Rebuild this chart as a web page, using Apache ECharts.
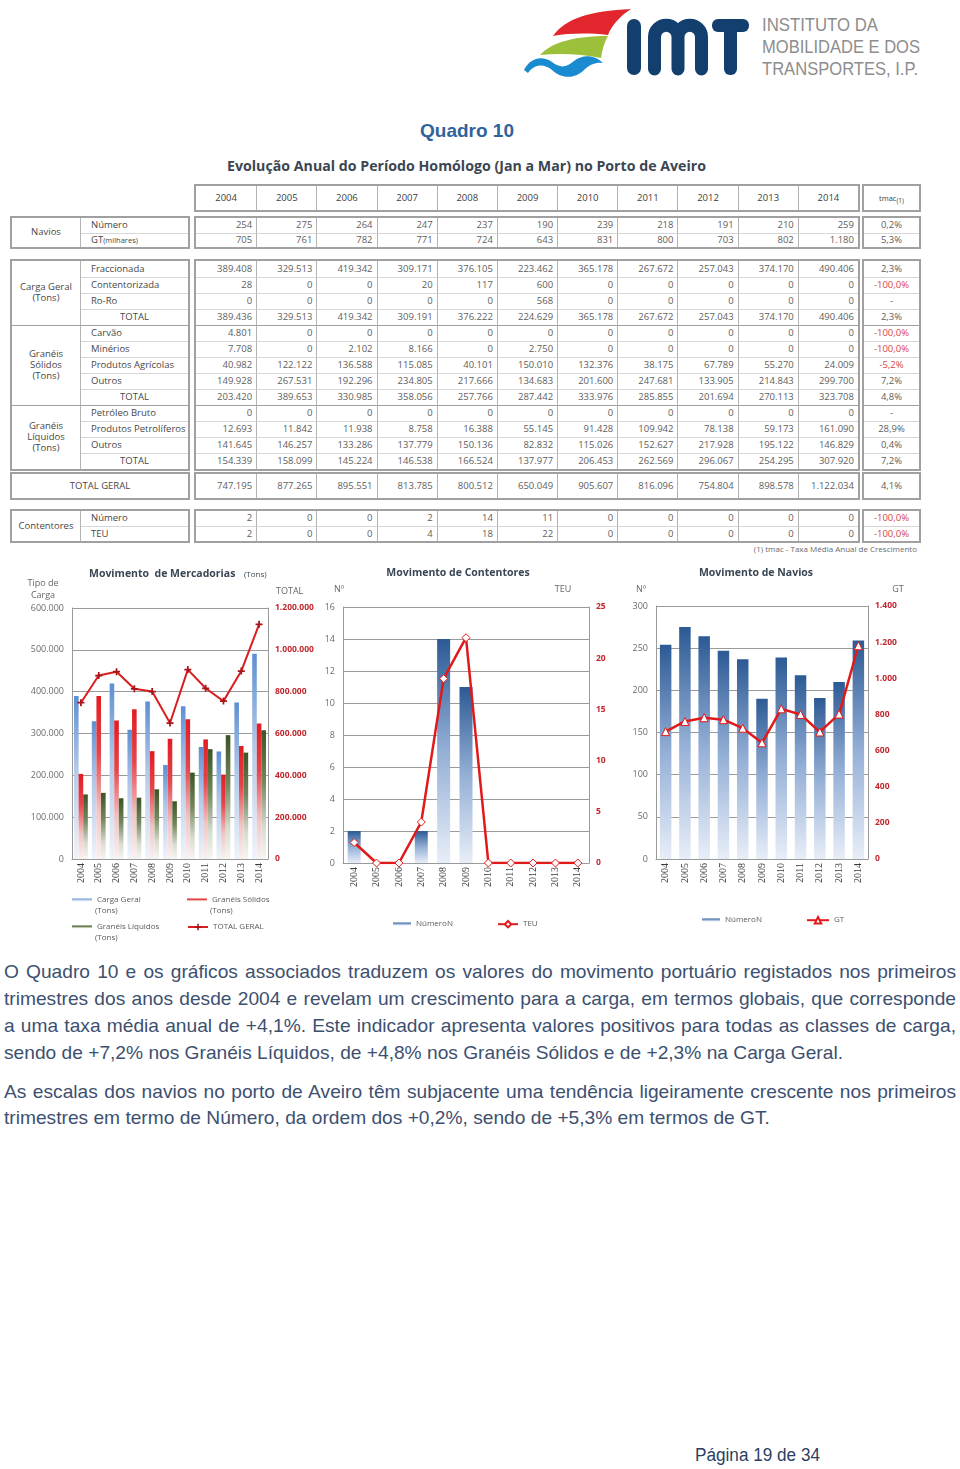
<!DOCTYPE html>
<html lang="pt">
<head>
<meta charset="utf-8">
<title>Quadro 10 - Porto de Aveiro</title>
<script src="https://cdn.jsdelivr.net/npm/echarts@6.0.0/dist/echarts.min.js"></script>
<style>
html,body{margin:0;padding:0;background:#fff;}
body{position:relative;width:960px;height:1469px;overflow:hidden;}
.abs{position:absolute;}
.fit{position:absolute;white-space:nowrap;transform-origin:0 50%;}
.bx{position:absolute;box-sizing:border-box;border:2px solid #a0a0a0;background:#fff;}
.c{position:absolute;box-sizing:border-box;display:flex;align-items:center;font-family:'Open Sans',sans-serif;font-size:9.5px;color:#5e5e5e;white-space:nowrap;overflow:hidden;line-height:1.15;}
.num{justify-content:flex-end;padding-right:4px;}
.ctr{justify-content:center;text-align:center;}
.lbl{padding-left:10px;color:#474747;}
.grp{color:#474747;}
.hdr{color:#404040;font-size:9.5px;}
.neg{color:#d64545;}
.pl{position:absolute;left:4px;white-space:nowrap;font-family:'Liberation Sans',Arial,sans-serif;font-size:19px;line-height:22px;color:#3d5070;transform-origin:0 50%;}
#chart{position:absolute;left:0;top:0;width:960px;height:1469px;z-index:5;pointer-events:none;}
</style>
</head>
<body>

<!-- logo -->
<svg class="abs" style="left:0;top:0" width="960" height="95" xmlns="http://www.w3.org/2000/svg">
  <path d="M553,36 C566,18 590,11 631,9 C620,16 612,25 608,35 C590,33 570,33 553,36 Z" fill="#e2262d"/>
  <path d="M540,55 C552,42 575,36 608,36 C604,43 602,50 601,58 C582,54 560,53 540,55 Z" fill="#9dc03a"/>
  <path d="M524,70 C530,58 542,55 552,62 C560,68 566,68 574,61 C584,53 596,56 603,63 C597,62 590,64 584,70 C574,80 560,78 552,70 C544,63 534,64 528,73 Z" fill="#1a8bd0"/>
  <rect x="627" y="19" width="14" height="56" rx="7" fill="#123f6e"/>
  <path d="M654.5,69 V37 A11.75,11.75 0 0 1 678,37 V69 M678,37 A11.75,11.75 0 0 1 701.5,37 V69" fill="none" stroke="#123f6e" stroke-width="13" stroke-linecap="round"/>
  <rect x="712" y="19" width="37" height="13" rx="6" fill="#123f6e"/>
  <rect x="724" y="19" width="13" height="56" rx="6" fill="#123f6e"/>
  <text x="762" y="31" font-family="Liberation Sans" font-size="19" fill="#8d8d8d" textLength="116" lengthAdjust="spacingAndGlyphs">INSTITUTO DA</text>
  <text x="762" y="53" font-family="Liberation Sans" font-size="19" fill="#8d8d8d" textLength="158" lengthAdjust="spacingAndGlyphs">MOBILIDADE E DOS</text>
  <text x="762" y="75" font-family="Liberation Sans" font-size="19" fill="#8d8d8d" textLength="156" lengthAdjust="spacingAndGlyphs">TRANSPORTES, I.P.</text>
</svg>

<div id="t1" class="fit" style="font-family:'Liberation Sans',Arial,sans-serif;font-weight:bold;font-size:19px;color:#30639c;line-height:24px;">Quadro 10</div>
<div id="t2" class="fit" style="font-family:'Open Sans',sans-serif;font-weight:700;font-size:14px;color:#3b4652;line-height:18px;">Evolução Anual do Período Homólogo (Jan a Mar) no Porto de Aveiro</div>

<div class="abs" style="right:43px;top:543px;font-family:'Open Sans',sans-serif;font-size:8px;color:#6a6a6a;white-space:nowrap;line-height:12px;">(1) tmac - Taxa Média Anual de Crescimento</div>

<div class="pl" data-y="972" data-j="1">O Quadro 10 e os gráficos associados traduzem os valores do movimento portuário registados nos primeiros</div>
<div class="pl" data-y="999" data-j="1">trimestres dos anos desde 2004 e revelam um crescimento para a carga, em termos globais, que corresponde</div>
<div class="pl" data-y="1026" data-j="1">a uma taxa média anual de +4,1%. Este indicador apresenta valores positivos para todas as classes de carga,</div>
<div class="pl" data-y="1053" data-j="0">sendo de +7,2% nos Granéis Líquidos, de +4,8% nos Granéis Sólidos e de +2,3% na Carga Geral.</div>
<div class="pl" data-y="1092" data-j="1">As escalas dos navios no porto de Aveiro têm subjacente uma tendência ligeiramente crescente nos primeiros</div>
<div class="pl" data-y="1118" data-j="0">trimestres em termo de Número, da ordem dos +0,2%, sendo de +5,3% em termos de GT.</div>

<div id="foot" class="fit" style="font-family:'Liberation Sans',Arial,sans-serif;font-size:18px;color:#2c3f63;line-height:22px;">Página 19 de 34</div>

<div id="chart"></div>

<script>
// ---------------- DATA ----------------
const years = ['2004','2005','2006','2007','2008','2009','2010','2011','2012','2013','2014'];

const naviosNumero = [254,275,264,247,237,190,239,218,191,210,259];
const naviosGT     = [705,761,782,771,724,643,831,800,703,802,1180];
const naviosTmac   = ['0,2%','5,3%'];

const cgFraccionada    = [389408,329513,419342,309171,376105,223462,365178,267672,257043,374170,490406];
const cgContentorizada = [28,0,0,20,117,600,0,0,0,0,0];
const cgRoRo           = [0,0,0,0,0,568,0,0,0,0,0];
const cgTotal          = [389436,329513,419342,309191,376222,224629,365178,267672,257043,374170,490406];
const cgTmac           = ['2,3%','-100,0%','-','2,3%'];

const gsCarvao    = [4801,0,0,0,0,0,0,0,0,0,0];
const gsMinerios  = [7708,0,2102,8166,0,2750,0,0,0,0,0];
const gsAgricolas = [40982,122122,136588,115085,40101,150010,132376,38175,67789,55270,24009];
const gsOutros    = [149928,267531,192296,234805,217666,134683,201600,247681,133905,214843,299700];
const gsTotal     = [203420,389653,330985,358056,257766,287442,333976,285855,201694,270113,323708];
const gsTmac      = ['-100,0%','-100,0%','-5,2%','7,2%','4,8%'];

const glPetroleo     = [0,0,0,0,0,0,0,0,0,0,0];
const glPetroliferos = [12693,11842,11938,8758,16388,55145,91428,109942,78138,59173,161090];
const glOutros       = [141645,146257,133286,137779,150136,82832,115026,152627,217928,195122,146829];
const glTotal        = [154339,158099,145224,146538,166524,137977,206453,262569,296067,254295,307920];
const glTmac         = ['-','28,9%','0,4%','7,2%'];

const totalGeral     = [747195,877265,895551,813785,800512,650049,905607,816096,754804,898578,1122034];
const totalGeralTmac = '4,1%';

const contNumero = [2,0,0,2,14,11,0,0,0,0,0];
const contTEU    = [2,0,0,4,18,22,0,0,0,0,0];
const contTmac   = ['-100,0%','-100,0%'];

const merchLeftTicks  = {min:0, max:600000, interval:100000};
const merchRightTicks = {min:0, max:1200000, interval:200000};
const contLeftTicks   = {min:0, max:16, interval:2};
const contRightTicks  = {min:0, max:25, interval:5};
const navLeftTicks    = {min:0, max:300, interval:50};
const navRightTicks   = {min:0, max:1400, interval:200};

// ---------------- helpers ----------------
const dot = v => String(v).replace(/\B(?=(\d{3})+(?!\d))/g, '.');

function mk(parent, cls, css, html){
  const d = document.createElement('div');
  d.className = cls; d.style.cssText = css;
  if (html !== undefined) d.innerHTML = html;
  parent.appendChild(d); return d;
}
function box(x,y,w,h){ return mk(document.body,'bx',`left:${x}px;top:${y}px;width:${w}px;height:${h}px`); }

const C_ROW = '#d6d6d6', C_COL = '#b3b3b3', C_GRP = '#a0a0a0';
const VX = 194, VW = 666, TX = 862, TW = 59, LX = 10, LW = 180, GW = 69;

function valueRows(y, h, rows){
  const bv = box(VX,y,VW,h), bt = box(TX,y,TW,h);
  const iw = VW-4, ih = h-4, rh = ih/rows.length, cw = iw/11, tw = TW-4;
  rows.forEach((r,i)=>{
    const bTop = i===0 ? 'none' : `1px solid ${r.grp ? C_GRP : C_ROW}`;
    r.vals.forEach((v,j)=>{
      mk(bv, 'c ' + (r.hdr ? 'ctr hdr' : 'num'),
        `left:${j*cw}px;top:${i*rh}px;width:${cw}px;height:${rh}px;border-top:${bTop};border-left:${j ? '1px solid '+C_COL : 'none'}`,
        typeof v === 'number' ? dot(v) : v);
    });
    const neg = /^-\d/.test(r.tmac) ? ' neg' : '';
    mk(bt, 'c ctr' + neg + (r.hdr ? ' hdr' : ''), `left:0;top:${i*rh}px;width:${tw}px;height:${rh}px;border-top:${bTop}`, r.tmac);
  });
}
function labelRows(y, h, groups){
  const bl = box(LX,y,LW,h);
  const n = groups.reduce((a,g)=>a+g.rows.length,0);
  const ih = h-4, rh = ih/n, iw = LW-4;
  let k = 0;
  groups.forEach((g,gi)=>{
    const gTop = gi===0 ? 'none' : `1px solid ${C_GRP}`;
    mk(bl,'c ctr grp',`left:0;top:${k*rh}px;width:${GW}px;height:${g.rows.length*rh}px;border-top:${gTop};border-right:1px solid ${C_COL}`, g.label);
    g.rows.forEach((r,ri)=>{
      const bTop = (k===0) ? 'none' : `1px solid ${ri===0 ? C_GRP : C_ROW}`;
      mk(bl, 'c ' + (r.total ? 'ctr grp' : 'lbl'), `left:${GW}px;top:${k*rh}px;width:${iw-GW}px;height:${rh}px;border-top:${bTop}`, r.name);
      k++;
    });
  });
}

// header
valueRows(184, 28, [{hdr:true, vals:years, tmac:'tmac <sup style="font-size:6.5px;position:relative;top:3px;">(1)</sup>'}]);
document.querySelectorAll('.hdr').forEach(e=>{ if(e.innerHTML.startsWith('tmac')) e.style.fontSize='7.5px'; });

// Navios
labelRows(216, 33, [{label:'Navios', rows:[{name:'Número'},{name:'GT <span style="font-size:7.5px">(milhares)</span>'}]}]);
valueRows(216, 33, [{vals:naviosNumero, tmac:naviosTmac[0]},{vals:naviosGT, tmac:naviosTmac[1]}]);

// Cargas
labelRows(259, 212, [
  {label:'Carga Geral<br>(Tons)', rows:[{name:'Fraccionada'},{name:'Contentorizada'},{name:'Ro-Ro'},{name:'TOTAL', total:true}]},
  {label:'Granéis<br>Sólidos<br>(Tons)', rows:[{name:'Carvão'},{name:'Minérios'},{name:'Produtos Agrícolas'},{name:'Outros'},{name:'TOTAL', total:true}]},
  {label:'Granéis<br>Líquidos<br>(Tons)', rows:[{name:'Petróleo Bruto'},{name:'Produtos Petrolíferos'},{name:'Outros'},{name:'TOTAL', total:true}]}
]);
valueRows(259, 212, [
  {vals:cgFraccionada, tmac:cgTmac[0]},
  {vals:cgContentorizada, tmac:cgTmac[1]},
  {vals:cgRoRo, tmac:cgTmac[2]},
  {vals:cgTotal, tmac:cgTmac[3]},
  {vals:gsCarvao, tmac:gsTmac[0], grp:true},
  {vals:gsMinerios, tmac:gsTmac[1]},
  {vals:gsAgricolas, tmac:gsTmac[2]},
  {vals:gsOutros, tmac:gsTmac[3]},
  {vals:gsTotal, tmac:gsTmac[4]},
  {vals:glPetroleo, tmac:glTmac[0], grp:true},
  {vals:glPetroliferos, tmac:glTmac[1]},
  {vals:glOutros, tmac:glTmac[2]},
  {vals:glTotal, tmac:glTmac[3]}
]);

// Total geral
(function(){
  const b = box(LX,472,LW,28);
  mk(b,'c ctr grp',`left:0;top:0;width:${LW-4}px;height:24px`,'TOTAL GERAL');
  valueRows(472, 28, [{vals:totalGeral, tmac:totalGeralTmac}]);
})();

// Contentores
labelRows(509, 34, [{label:'Contentores', rows:[{name:'Número'},{name:'TEU'}]}]);
valueRows(509, 34, [{vals:contNumero, tmac:contTmac[0]},{vals:contTEU, tmac:contTmac[1]}]);

// ---------------- text fitting ----------------
function fit(el, x, yc, w, center){
  el.style.transform = 'none';
  const nat = el.getBoundingClientRect().width;
  const s = w / nat;
  el.style.left = (center ? x - w/2 : x) + 'px';
  el.style.top = (yc - el.offsetHeight/2) + 'px';
  el.style.transform = `scaleX(${s})`;
}
function layoutText(){
  fit(document.getElementById('t1'), 467, 131, 94, true);
  fit(document.getElementById('t2'), 466, 166, 479, true);
  fit(document.getElementById('foot'), 695, 1455, 125, false);
  const lines = [...document.querySelectorAll('.pl')];
  lines.forEach(l=>{ l.style.wordSpacing='0px'; l.style.transform='none'; });
  const s = 839 / lines[3].getBoundingClientRect().width;
  lines.forEach(l=>{
    const w = l.getBoundingClientRect().width;
    l.style.top = (+l.dataset.y - 11) + 'px';
    if (l.dataset.j === '1'){
      const sp = (l.textContent.match(/ /g) || []).length;
      l.style.wordSpacing = ((952/s - w)/sp) + 'px';
    }
    l.style.transform = `scaleX(${s})`;
  });
}
layoutText();
if (document.fonts && document.fonts.ready) document.fonts.ready.then(layoutText);

// ---------------- charts ----------------
const grad = stops => ({type:'linear', x:0, y:0, x2:0, y2:1, colorStops:stops.map(([o,c])=>({offset:o, color:c}))});
const GRID_C = '#9a9a9a';
const splitL = {show:true, lineStyle:{color:GRID_C, width:1}};
const axL = {show:true, lineStyle:{color:GRID_C, width:1}};
const leftLab = {color:'#6b6b6b', fontSize:9, fontFamily:'Open Sans', margin:8};
const rightLab = {color:'#c1272d', fontSize:8.5, fontWeight:'bold', fontFamily:'Open Sans', margin:7};
const xLab = {rotate:90, fontFamily:'Liberation Serif', fontSize:10, color:'#3a3a3a', margin:4, interval:0};
const LT = {fontSize:8, color:'#5a5a5a', fontFamily:'Open Sans'};
const UT = '9px Open Sans';

const blueBar1 = grad([[0,'#5d8fd3'],[0.45,'#b3c9e8'],[1,'#f0f4fa']]);
const redBar   = grad([[0,'#e21c22'],[0.35,'#e4454a'],[0.7,'#f1c4c4'],[1,'#faf1f1']]);
const greenBar = grad([[0,'#3a5424'],[0.4,'#74875c'],[0.75,'#d7dccf'],[1,'#f6f6f2']]);
const blueBar2 = grad([[0,'#2c5a94'],[0.5,'#94afd6'],[1,'#e8eef8']]);

const cross = 'path://M3,0H5V3H8V5H5V8H3V5H0V3H3Z';

function yAx(grid, ticks, pos, lab, split){
  return Object.assign({type:'value', gridIndex:grid, position:pos, axisLabel:lab, splitLine: split ? splitL : {show:false}, axisLine:axL, axisTick:{show:false}}, ticks);
}
function gtext(x, y, text, align, font, fill){
  return {type:'text', x, y, silent:true, style:{text, font: font || UT, fill: fill || '#666', align: align || 'left', verticalAlign:'middle'}};
}

const chart = echarts.init(document.getElementById('chart'), null, {renderer:'canvas', width:960, height:1469});
chart.setOption({
  animation:false,
  grid:[
    {left:72, top:608, width:196, height:251},
    {left:343, top:607, width:246, height:256},
    {left:656, top:606, width:212, height:253}
  ],
  xAxis:[0,1,2].map(i=>({type:'category', gridIndex:i, data:years, axisLabel:xLab, axisTick:{show:false}, axisLine:axL})),
  yAxis:[
    yAx(0, merchLeftTicks, 'left', Object.assign({formatter:dot}, leftLab), true),
    yAx(0, merchRightTicks, 'right', Object.assign({formatter:dot}, rightLab), false),
    yAx(1, contLeftTicks, 'left', leftLab, true),
    yAx(1, contRightTicks, 'right', rightLab, false),
    yAx(2, navLeftTicks, 'left', leftLab, true),
    yAx(2, navRightTicks, 'right', Object.assign({formatter:dot}, rightLab), false)
  ],
  legend:[
    {data:['Carga Geral (Tons)'], left:72, top:896, padding:0, icon:'rect', itemWidth:20, itemHeight:3, formatter:'Carga Geral', textStyle:LT, selectedMode:false},
    {data:['Granéis Sólidos (Tons)'], left:187, top:896, padding:0, icon:'rect', itemWidth:20, itemHeight:3, formatter:'Granéis Sólidos', textStyle:LT, selectedMode:false},
    {data:['Granéis Líquidos (Tons)'], left:72, top:923, padding:0, icon:'rect', itemWidth:20, itemHeight:3, formatter:'Granéis Líquidos', textStyle:LT, selectedMode:false},
    {data:['TOTAL GERAL'], left:187, top:923, padding:0, itemWidth:20, itemHeight:8, textStyle:LT, selectedMode:false},
    {data:['NúmeroN'], left:393, top:920, padding:0, icon:'rect', itemWidth:18, itemHeight:3, textStyle:LT, selectedMode:false},
    {data:['TEU'], left:497, top:920, padding:0, itemWidth:20, itemHeight:8, textStyle:LT, selectedMode:false},
    {data:['NúmeroN'], left:702, top:916, padding:0, icon:'rect', itemWidth:18, itemHeight:3, textStyle:LT, selectedMode:false},
    {data:['GT'], left:806, top:916, padding:0, itemWidth:22, itemHeight:8, textStyle:LT, selectedMode:false}
  ],
  series:[
    {name:'Carga Geral (Tons)', type:'bar', xAxisIndex:0, yAxisIndex:0, data:cgTotal, barWidth:4.6, barGap:'0%', itemStyle:{color:blueBar1}},
    {name:'Granéis Sólidos (Tons)', type:'bar', xAxisIndex:0, yAxisIndex:0, data:gsTotal, barWidth:4.6, barGap:'0%', itemStyle:{color:redBar}},
    {name:'Granéis Líquidos (Tons)', type:'bar', xAxisIndex:0, yAxisIndex:0, data:glTotal, barWidth:4.6, barGap:'0%', itemStyle:{color:greenBar}},
    {name:'TOTAL GERAL', type:'line', xAxisIndex:0, yAxisIndex:1, data:totalGeral, symbol:cross, symbolSize:7, lineStyle:{color:'#d71f1f', width:2}, itemStyle:{color:'#a8141a'}},

    {name:'NúmeroN', type:'bar', xAxisIndex:1, yAxisIndex:2, data:contNumero, barWidth:13, itemStyle:{color:blueBar2}},
    {name:'TEU', type:'line', xAxisIndex:1, yAxisIndex:3, data:contTEU, symbol:'diamond', symbolSize:8, lineStyle:{color:'#e01a1a', width:2.5}, itemStyle:{color:'#ffffff', borderColor:'#e01a1a', borderWidth:1}},

    {name:'NúmeroN', type:'bar', xAxisIndex:2, yAxisIndex:4, data:naviosNumero, barWidth:11.5, itemStyle:{color:blueBar2}},
    {name:'GT', type:'line', xAxisIndex:2, yAxisIndex:5, data:naviosGT, symbol:'triangle', symbolSize:8, lineStyle:{color:'#e01a1a', width:2.5}, itemStyle:{color:'#ffffff', borderColor:'#e01a1a', borderWidth:1}}
  ],
  graphic:[
    gtext(89, 574, 'Movimento  de Mercadorias', 'left', 'bold 10.5px Open Sans', '#3a4654'),
    gtext(244, 575, '(Tons)', 'left', '8px Open Sans', '#3a4654'),
    gtext(458, 573, 'Movimento de Contentores', 'center', 'bold 10.5px Open Sans', '#3a4654'),
    gtext(756, 573, 'Movimento de Navios', 'center', 'bold 10.5px Open Sans', '#3a4654'),
    gtext(43, 583, 'Tipo de', 'center'),
    gtext(43, 595, 'Carga', 'center'),
    gtext(276, 591, 'TOTAL', 'left'),
    gtext(339, 589, 'Nº', 'center'),
    gtext(563, 589, 'TEU', 'center'),
    gtext(641, 589, 'Nº', 'center'),
    gtext(898, 589, 'GT', 'center'),
    gtext(95, 911, '(Tons)', 'left', '8px Open Sans', '#5a5a5a'),
    gtext(210, 911, '(Tons)', 'left', '8px Open Sans', '#5a5a5a'),
    gtext(95, 938, '(Tons)', 'left', '8px Open Sans', '#5a5a5a')
  ]
});
</script>
</body>
</html>
